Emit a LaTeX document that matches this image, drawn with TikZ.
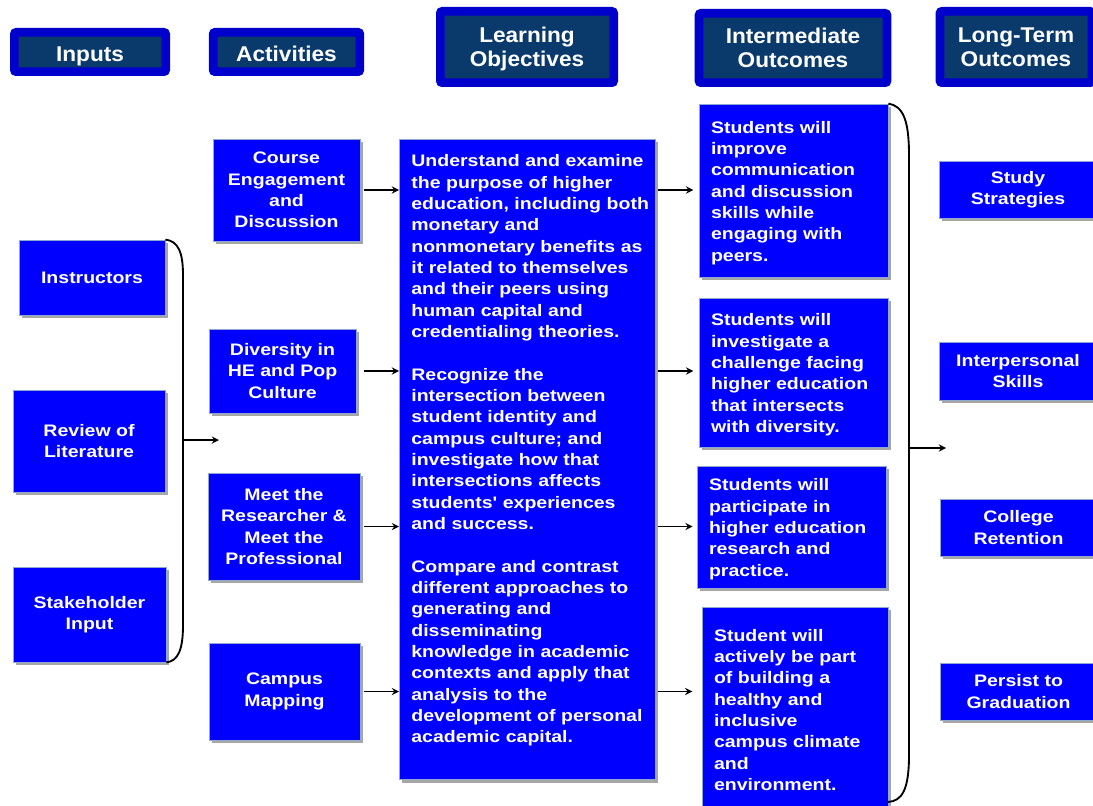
\documentclass[tikz,border=0pt]{standalone}
\usepackage{fontspec}
\setmainfont{Liberation Sans}
\newfontfamily\boxfont{Liberation Sans}[FakeStretch=1.17]
\newfontfamily\headfont{Liberation Sans}[FakeStretch=1.06]
\usepackage{tikz}
\usetikzlibrary{positioning,shadows}
\hyphenpenalty=10000
\exhyphenpenalty=10000

\definecolor{boxblue}{HTML}{0000FF}
\definecolor{rimblue}{HTML}{0000CC}
\definecolor{navy}{HTML}{0A3A6B}
\definecolor{edgeblue}{HTML}{8FA8D0}

\tikzset{
  box/.style={fill=boxblue, draw=edgeblue, line width=0.6pt, text=white,
    font=\boxfont\bfseries\fontsize{12.5}{16}\selectfont, align=center, inner sep=0pt,
    drop shadow={shadow xshift=2.2pt, shadow yshift=-2.2pt, fill=black!35, opacity=1}},
  objbox/.style={box, align=left},
  lbox/.style={box, align=left, inner xsep=9pt, execute at begin node=\rule{0pt}{12.5pt}},
  head/.style={fill=navy, draw=rimblue, line width=6.5pt, rounded corners=1.5pt, text=white,
    font=\headfont\bfseries\fontsize{16}{18}\selectfont, align=center, inner sep=0pt, text depth=0pt,
    execute at begin node=\rule{0pt}{15pt}},
  arr/.style={-stealth, line width=1.4pt},
  brace/.style={line width=1.4pt}
}

\begin{document}
\begin{tikzpicture}[x=0.75pt,y=-0.75pt]
      \useasboundingbox (0,0) rectangle (1093,806);

      %headers
      \node[head, minimum width=113.5pt, minimum height=29.5pt] (hin) at (90,52) {Inputs};
      \node[head, minimum width=110pt, minimum height=29.5pt] (hact) at (286.5,52) {Activities};
      \node[head, minimum width=130pt, minimum height=53.5pt] (hlo) at (527,47) {Learning\\Objectives};
      \node[head, minimum width=141pt, minimum height=52pt] (hio) at (793,48) {Intermediate\\Outcomes};
      \node[head, minimum width=114pt, minimum height=53.5pt] (hlt) at (1016,47) {Long-Term\\Outcomes};

      %inputs
      \node[box, minimum width=109.5pt, minimum height=56.25pt] (in1) at (92,277.5) {Instructors};
      \node[box, minimum width=114pt, minimum height=76.5pt] (in2) at (89,441) {Review of\\Literature};
      \node[box, minimum width=114.75pt, minimum height=71.25pt] (in3) at (89.5,614.5) {Stakeholder\\Input};

      %activities
      \node[box, minimum width=110.25pt, minimum height=76.5pt] (act1) at (286.5,190) {Course\\Engagement\\and\\Discussion};
      \node[box, minimum width=110.25pt, minimum height=63pt] (act2) at (282.5,371) {Diversity in\\HE and Pop\\Culture};
      \node[box, minimum width=114pt, minimum height=80.25pt] (act3) at (284,526.5) {Meet the\\Researcher \&\\Meet the\\Professional};
      \node[box, minimum width=113.25pt, minimum height=72.75pt] (act4) at (284.5,691.5) {Campus\\Mapping};

      %learning objectives
      \node[objbox, anchor=north west, text width=183pt, inner xsep=4.5pt, inner ysep=11.5pt] (lo) at (399,139)
        {\leftskip=4.5pt
         Understand and examine\\the purpose of higher\\education, including both\\monetary and\\nonmonetary benefits as\\it related to themselves\\and their peers using\\human capital and\\credentialing theories.\\[16pt]
         Recognize the\\intersection between\\student identity and\\campus culture; and\\investigate how that\\intersections affects\\students' experiences\\and success.\\[16pt]
         Compare and contrast\\different approaches to\\generating and\\disseminating\\knowledge in academic\\contexts and apply that\\analysis to the\\development of personal\\academic capital.\par\vspace{13.5pt}};

      %intermediate outcomes
      \node[lbox, text width=123.75pt, minimum height=129.75pt] (io1) at (793.5,190.5) {Students will\\improve\\communication\\and discussion\\skills while\\engaging with\\peers.};
      \node[lbox, text width=123.75pt, minimum height=111.75pt] (io2) at (793.5,372.5) {Students will\\investigate a\\challenge facing\\higher education\\that intersects\\with diversity.};
      \node[lbox, text width=123.75pt, minimum height=91.5pt] (io3) at (791.5,527) {Students will\\participate in\\higher education\\research and\\practice.};
      \node[lbox, text width=121.5pt, minimum height=150.75pt] (io4) at (795,707.5) {Student will\\actively be part\\of building a\\healthy and\\inclusive\\campus climate\\and\\environment.};

      %long-term outcomes
      \node[box, minimum width=118.5pt, minimum height=42.75pt] (lt1) at (1018,189.5) {Study\\Strategies};
      \node[box, minimum width=118.5pt, minimum height=43.5pt] (lt2) at (1018,371) {Interpersonal\\Skills};
      \node[box, minimum width=117.75pt, minimum height=42.75pt] (lt3) at (1018.5,527.5) {College\\Retention};
      \node[box, minimum width=117.75pt, minimum height=42.75pt] (lt4) at (1018.5,691.5) {Persist to\\Graduation};

      %in>act
      \draw[brace] (in1.north east) .. controls (178,241) and (183,252) .. (183,275) -- (183,625) .. controls (183,650) and (178,661) .. (in3.south east);
      \coordinate (lb) at (183,440);
      \coordinate (lbend) at (219,440);
      \draw[arr] (lb) -- (lbend);

      %act>lo
      \draw[arr, shorten <=3pt] (act1.east) -- (act1 -| lo.west);
      \draw[arr, shorten <=6pt] (act2.east) -- (act2 -| lo.west);
      \draw[arr, shorten <=3pt] (act3.east) -- (act3 -| lo.west);
      \draw[arr, shorten <=3pt] (act4.east) -- (act4 -| lo.west);

      %lo>io
      \draw[arr, shorten <=2pt, shorten >=4pt] (act1 -| lo.east) -- (act1 -| io1.west);
      \draw[arr, shorten <=2pt, shorten >=4pt] (act2 -| lo.east) -- (act2 -| io2.west);
      \draw[arr, shorten <=2pt, shorten >=3pt] (act3 -| lo.east) -- (act3 -| io3.west);
      \draw[arr, shorten <=2pt, shorten >=7pt] (act4 -| lo.east) -- (act4 -| io4.west);

      %io>lt
      \coordinate (rbend) at (888,802);
      \draw[brace] (io1.north east) .. controls (903,106) and (909,120) .. (909,155) -- (909,755) .. controls (909,790) and (902,801) .. (rbend);
      \coordinate (rb) at (909,448);
      \coordinate (rbtip) at (946,448);
      \draw[arr] (rb) -- (rbtip);
\end{tikzpicture}
\end{document}
